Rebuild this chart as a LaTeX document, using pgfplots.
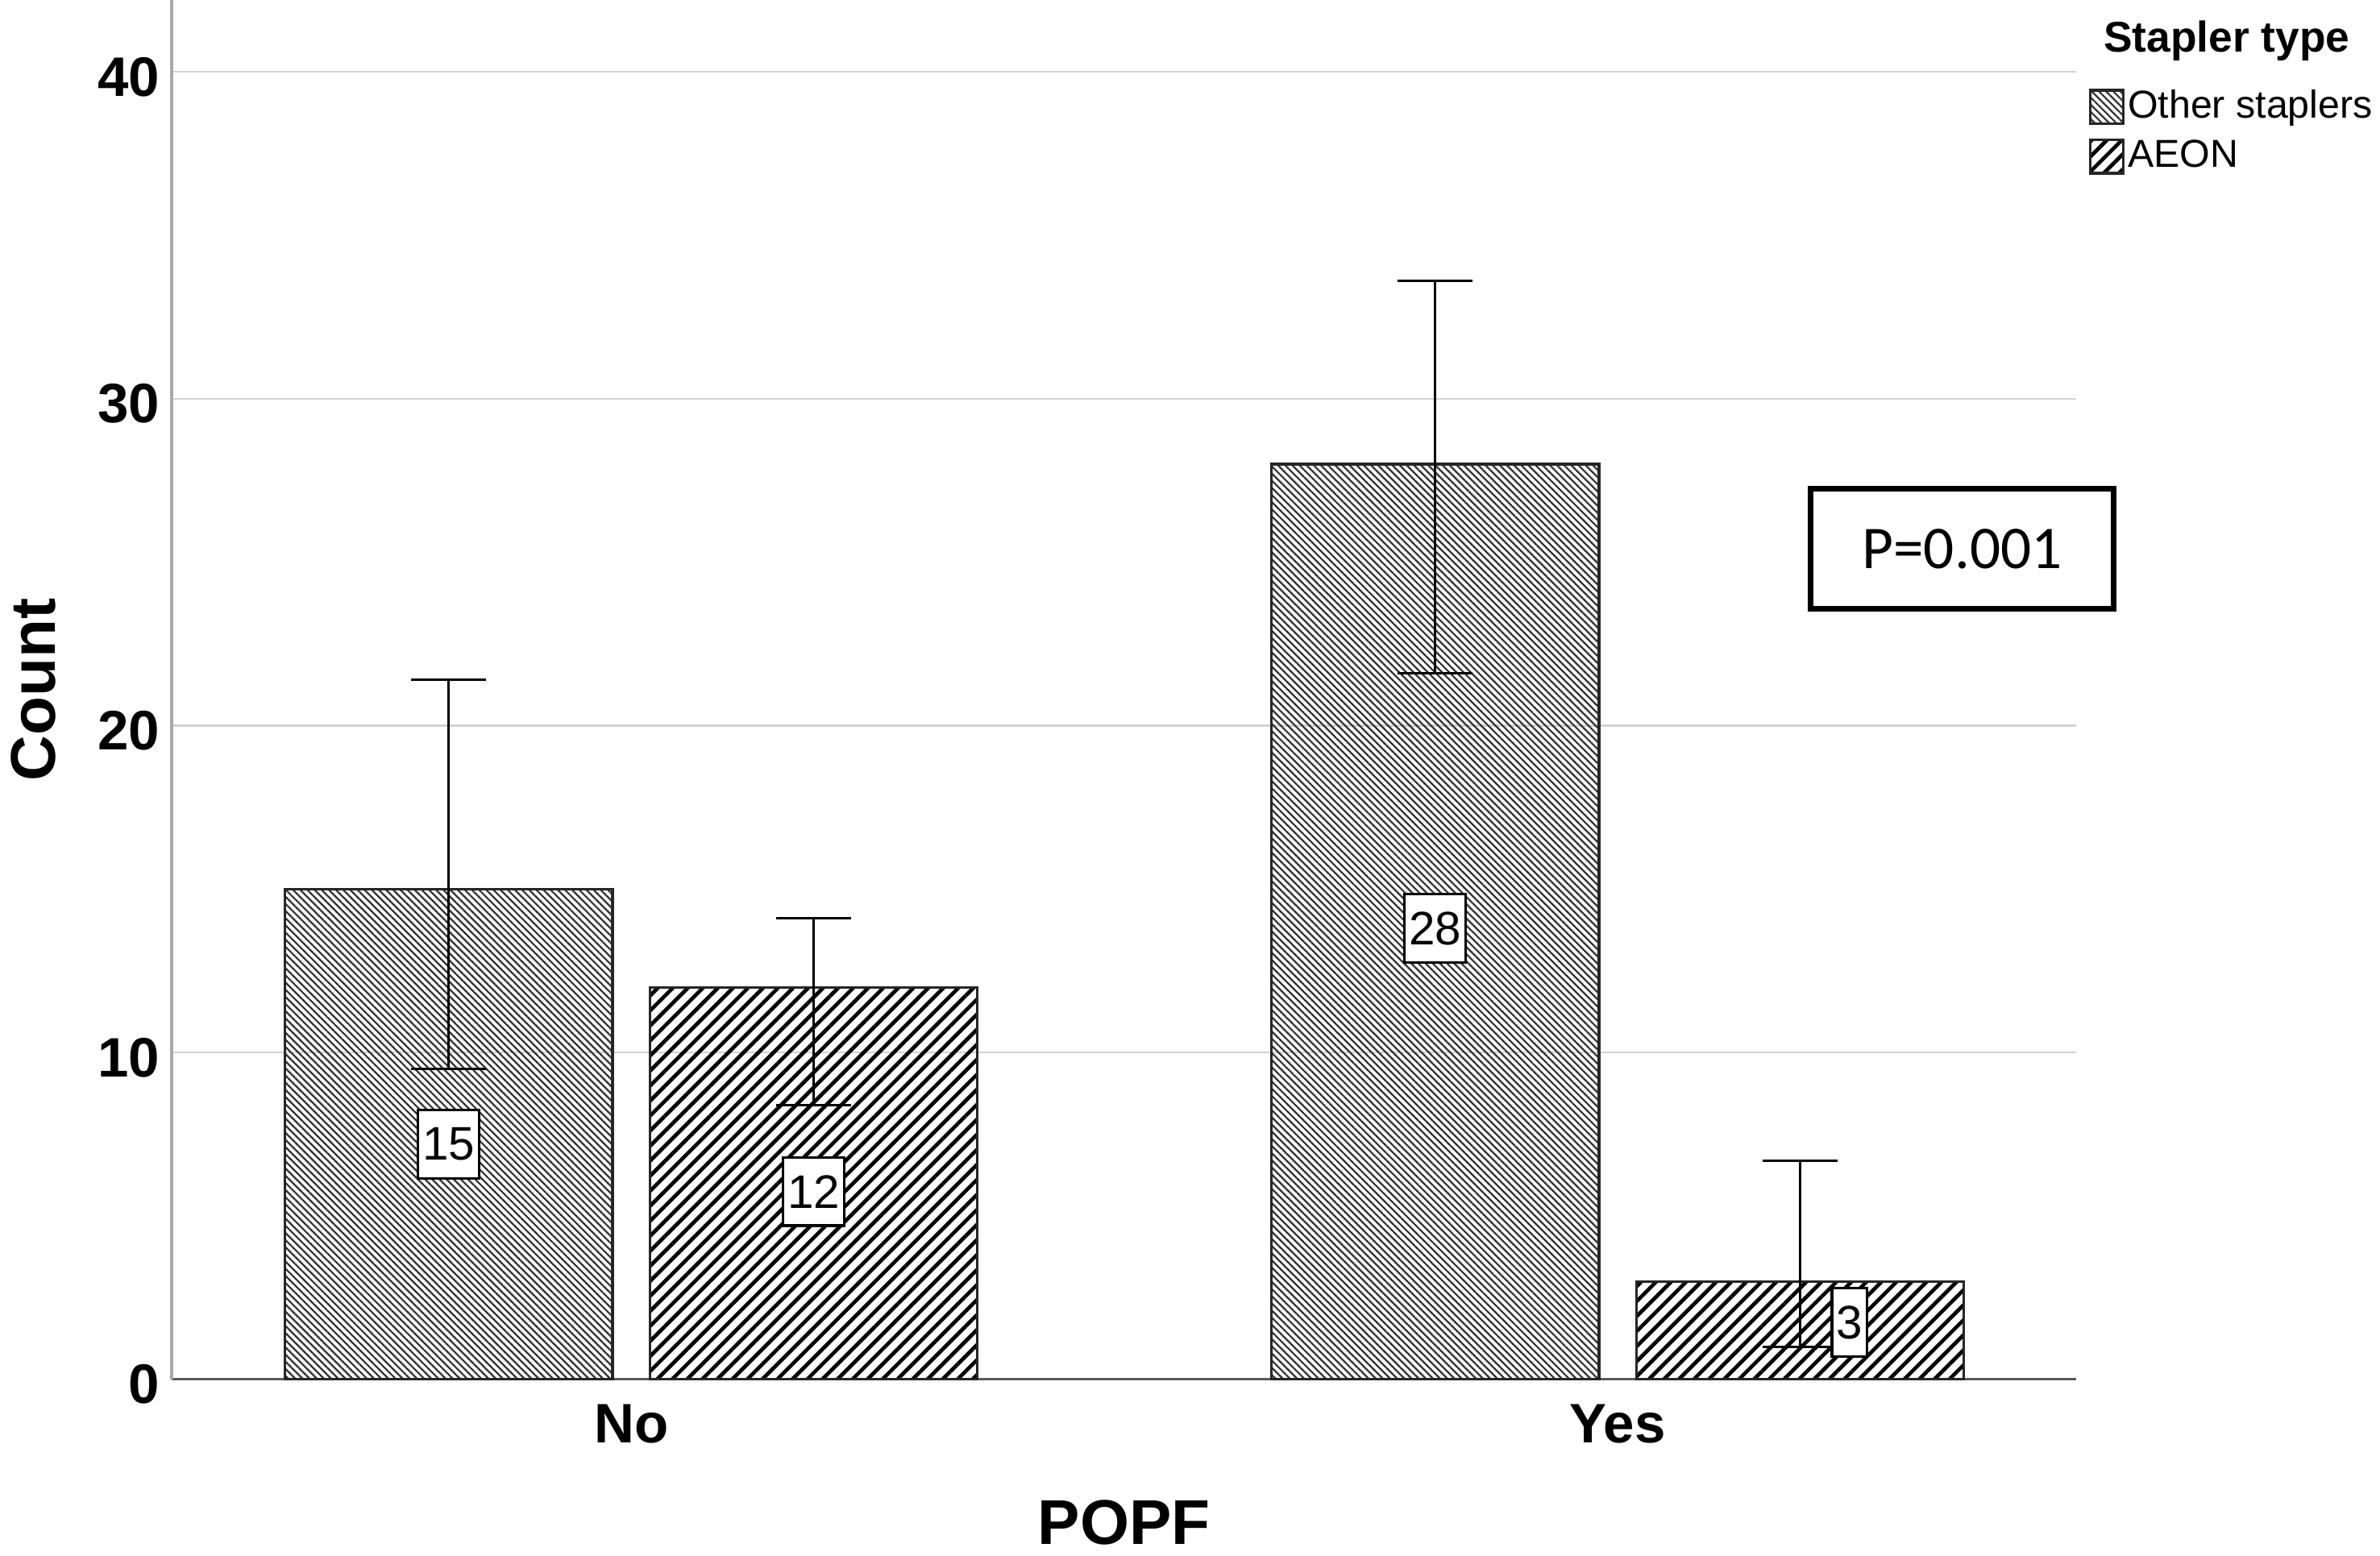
\documentclass[border=0pt]{standalone}
\usepackage{fontspec}
\setmainfont{Liberation Sans}
\newfontfamily\carlito{Carlito}
\usepackage{pgfplots}
\usepackage{pgfplotstable}
\pgfplotsset{compat=1.18}
\usetikzlibrary{patterns.meta}

\definecolor{gridgray}{HTML}{D2D2D2}
\definecolor{yaxgray}{HTML}{A8A8A8}
\definecolor{xaxgray}{HTML}{5A5A5A}

\pgfplotsset{mylegend/.style={legend image code/.code={\draw[##1] (0pt,-3.3pt) rectangle (6.6pt,3.3pt);}}}

\pgfplotstableread{
x y ep em
-0.185 15 6.4 5.5
0.815 28 5.6 6.4
}\other
\pgfplotstableread{
x y ep em
0.185 12 2.1 3.6
1.185 3 3.7 2.0
}\aeon
\pgfplotstableread{
x y lbl
-0.185 7.2 15
0.185 5.75 12
0.815 13.8 28
1.235 1.75 3
}\labels

\begin{document}
\begin{tikzpicture}
\path[use as bounding box] (-33.9pt,-34.8pt) rectangle (436.5pt,272.7pt);
\begin{axis}[
  at={(0,0)}, anchor=south west,
  width=376.5pt, height=272.7pt, scale only axis,
  xmin=-0.466, xmax=1.465, ymin=0, ymax=42.2,
  enlargelimits=false,
  clip=false,
  axis x line*=bottom, axis y line*=left,
  axis line style={-},
  x axis line style={draw=xaxgray, line width=0.5pt},
  y axis line style={draw=yaxgray, line width=0.6pt},
  xtick={0,1}, xticklabels={No,Yes},
  ytick={0,10,20,30,40},
  major tick length=0pt,
  ymajorgrids, grid style={draw=gridgray, line width=0.4pt},
  /pgf/number format/assume math mode=true,
  tick label style={font=\fontsize{11}{13}\selectfont\bfseries},
  yticklabel style={xshift=1.2pt, yshift=-1pt},
  xticklabel style={yshift=-1.4pt},
  xlabel={POPF}, ylabel={Count},
  label style={font=\fontsize{12.5}{15}\selectfont\bfseries},
  xlabel style={at={(axis description cs:0.5,-0.104)}, anchor=center},
  ylabel style={at={(axis description cs:-0.0725,0.5)}, anchor=center},
  legend style={at={(axis description cs:1.006,0.9395)}, anchor=north west,
    draw=none, fill=none, inner sep=0pt, row sep=0.9pt,
    font=\fontsize{7.7}{9}\selectfont,
    nodes={inner sep=0.6pt, text height=6pt, text depth=1.7pt}},
  legend cell align=left,
]
\addplot[ybar, bar width=0.332, bar shift=0pt, draw=black!85, line width=0.5pt,
  pattern={Lines[angle=-45, distance=1pt, line width=0.36pt]}, pattern color=black!80,
  mylegend,
  error bars/.cd, y dir=both, y explicit,
  error bar style={black, line width=0.5pt, solid},
  error mark options={rotate=90, black, mark size=7.4pt, line width=0.5pt}]
  table[x=x, y=y, y error plus=ep, y error minus=em] {\other};
\addlegendentry{Other staplers}
\addplot[ybar, bar width=0.332, bar shift=0pt, draw=black!85, line width=0.5pt,
  pattern={Lines[angle=45, distance=2.1pt, line width=0.75pt]}, pattern color=black,
  mylegend,
  error bars/.cd, y dir=both, y explicit,
  error bar style={black, line width=0.5pt, solid},
  error mark options={rotate=90, black, mark size=7.4pt, line width=0.5pt}]
  table[x=x, y=y, y error plus=ep, y error minus=em] {\aeon};
\addlegendentry{AEON}
\addplot[draw=none, mark=none, forget plot, nodes near coords, point meta=explicit symbolic,
  nodes near coords style={anchor=center, draw=black, fill=white, line width=0.5pt,
    inner xsep=0.9pt, inner ysep=0pt, minimum height=13.5pt, text=black,
    font=\fontsize{9.3}{11}\selectfont}]
  table[x=x, y=y, meta=lbl] {\labels};
\node[font=\fontsize{8.5}{10}\selectfont\bfseries] at (axis description cs:1.0789,0.9703) {Stapler type};
\node[draw=black, line width=1.1pt, minimum width=60pt, minimum height=23.7pt,
  font=\carlito\fontsize{12}{14}\selectfont] at (axis description cs:0.940,0.602) {P=0.001};
\end{axis}
\end{tikzpicture}
\end{document}
